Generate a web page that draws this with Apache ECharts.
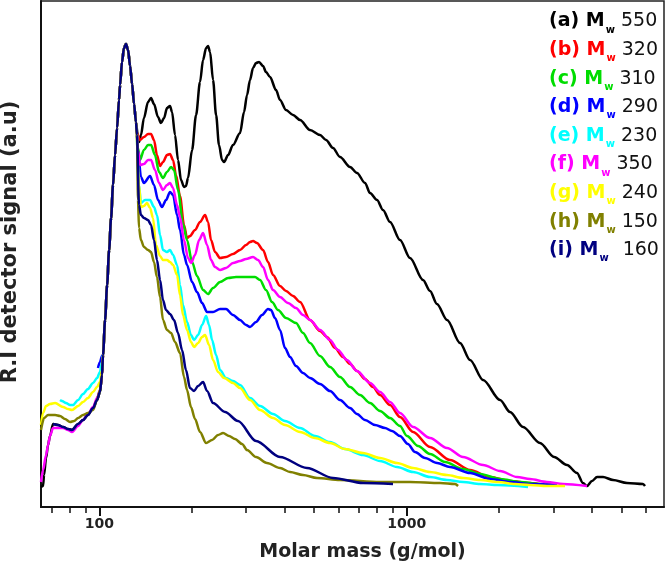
<!DOCTYPE html>
<html>
<head>
<meta charset="utf-8">
<script src="https://cdn.jsdelivr.net/npm/echarts@6/dist/echarts.min.js"></script>
<style>
html,body{margin:0;padding:0;background:#ffffff;}
#chart{width:666px;height:567px;}
</style>
</head>
<body>
<div id="chart"></div>
<script>
// ---------- axis / tick data ----------
const massRange = [64.6, 6871];
const majorTickMasses = [100, 1000];
const minorTickMasses = [70, 80, 90, 200, 300, 400, 500, 600, 700, 800, 900, 2000, 3000, 4000, 5000, 6000];

// ---------- legend data ----------
const seriesKeys = ['a', 'b', 'c', 'd', 'e', 'f', 'g', 'h', 'i'];
const mwValues = [550, 320, 310, 290, 230, 350, 240, 150, 160];
const lineColors = ['#000000', '#ff0000', '#00dd00', '#0000ff', '#00ffff', '#ff00ff', '#ffff00', '#808000', '#000080'];

// ---------- curves: [molar mass (g/mol), R.I. signal (a.u.)] ----------
// main peak shared by all samples (~120 g/mol)
const mainPeak = [[102.8,132],[104.4,167],[106.0,202],[107.6,237],[109.2,269],[110.8,302],[112.5,332],[114.2,359],[115.9,387],[116.8,402],[118.5,425],[120.3,439],[122.1,443],[124.0,437],[125.9,421],[127.8,403],[129.7,383],[131.6,365]];

const aLow = [[64.6,0],[65.6,1],[66.1,12],[67.1,29],[68.1,42],[69.1,51],[70.7,63],[73.4,62],[76.2,60],[79.1,58],[81.5,57],[85.3,63],[88.5,67],[91.8,72],[95.4,79],[98.3,87],[100.5,95],[102.0,112]];
const aHigh = [[133.6,349],[134.6,345],[136.6,352],[139.7,369],[144.0,385],[147.3,389],[150.6,383],[155.2,370],[158.7,364],[162.4,369],[166.0,379],[169.8,381],[172.4,375],[176.3,352],[180.3,327],[184.4,307],[188.6,300],[191.4,301],[194.3,309],[200.3,337],[206.4,372],[212.6,405],[217.5,427],[222.5,439],[225.8,441],[229.2,435],[234.4,407],[239.8,372],[245.1,342],[250.8,327],[254.6,325],[262.3,332],[272.2,342],[286.9,354],[295.6,375],[302.4,392],[309.2,407],[316.2,419],[323.4,424],[330.8,425],[340.9,421],[348.5,415],[359.2,410],[375.7,397],[387.1,387],[404.9,377],[426.7,372],[449.7,367],[484.6,357],[522.4,352],[546.4,347],[575.8,339],[606.7,330],[654.1,320],[689.2,314],[731.7,304],[759.6,294],[800.7,287],[837.2,277],[882.4,265],[951.0,247],[1025,229],[1130,207],[1191,196],[1254,183],[1353,167],[1491,144],[1607,127],[1772,107],[2012,87],[2168,75],[2390,60],[2714,44],[3016,30],[3323,22],[3581,14],[3745,4],[3859,1],[4007,6],[4161,10],[4352,10],[4693,7],[5207,4],[5870,3],[5960,1]];

const bLow = [[98.3,87],[100.5,95],[102.0,112]];
const bHigh = [[132.6,354],[135.6,347],[139.7,350],[144.0,353],[147.3,353],[150.6,347],[154.0,332],[157.6,321],[161.1,325],[166.0,332],[169.8,333],[173.7,327],[177.6,312],[183.0,291],[188.6,262],[192.9,249],[197.2,251],[204.8,257],[212.6,265],[220.8,272],[225.8,265],[230.9,247],[237.9,235],[247.0,229],[258.4,230],[272.2,233],[286.9,237],[300.1,242],[309.2,245],[316.2,246],[325.8,244],[340.9,237],[353.8,225],[367.4,212],[387.1,201],[404.9,196],[426.7,191],[449.7,185],[484.6,167],[522.4,156],[550.5,150],[584.4,139],[620.5,130],[654.1,123],[689.2,116],[731.7,108],[776.9,100],[818.8,92],[882.4,82],[951.0,70],[1049,55],[1191,40],[1383,27],[1607,17],[1866,10],[2168,6],[2518,4],[2817,2]];

const cLow = [[98.3,87],[100.5,95],[102.0,112]];
const cHigh = [[133.6,339],[135.6,327],[139.7,337],[144.0,342],[147.3,342],[151.7,332],[156.4,315],[161.1,309],[166.0,315],[171.1,320],[175.0,317],[180.3,297],[187.2,263],[192.9,247],[200.3,225],[207.9,211],[217.5,197],[225.8,193],[234.4,199],[247.0,205],[262.3,209],[278.4,210],[300.1,210],[321.0,210],[333.3,207],[348.5,197],[364.6,185],[381.4,177],[404.9,169],[436.4,164],[459.9,154],[484.6,144],[522.4,131],[563.0,120],[606.7,110],[654.1,100],[704.8,92],[759.6,84],[818.8,76],[882.4,69],[951.0,61],[1002,51],[1089,41],[1191,33],[1333,25],[1525,18],[1732,13],[2012,8],[2337,5],[2714,3],[3038,2]];

const dLow = [[99.0,119],[100.5,125],[102.0,131]];
const dHigh = [[133.6,337],[136.6,310],[139.7,304],[146.2,311],[150.6,302],[155.2,287],[159.9,280],[164.8,287],[169.8,295],[173.7,292],[179.0,272],[183.0,257],[188.6,232],[192.9,222],[200.3,205],[207.9,195],[215.9,184],[224.1,175],[234.4,175],[247.0,178],[258.4,178],[272.2,172],[286.9,167],[300.1,162],[309.2,160],[323.4,165],[338.3,172],[353.8,178],[361.9,177],[372.9,169],[387.1,157],[401.9,139],[417.3,130],[436.4,121],[459.9,114],[484.6,109],[522.4,103],[563.0,96],[606.7,87],[654.1,79],[689.2,73],[731.7,67],[788.6,62],[850.0,59],[895.7,56],[951.0,51],[1009,43],[1064,35],[1147,29],[1255,24],[1383,20],[1607,14],[1866,8],[2168,5],[2518,3],[3083,2]];

const eLow = [[74.5,87],[75.6,86],[77.9,84],[80.3,82],[82.1,82],[85.3,87],[88.5,93],[91.8,98],[95.4,104],[98.3,109],[100.5,115],[102.0,125]];
const eHigh = [[134.6,302],[136.6,284],[140.8,287],[146.2,287],[150.6,280],[154.0,272],[157.6,252],[161.1,237],[166.0,235],[169.8,237],[173.7,232],[179.0,222],[183.0,202],[187.2,182],[192.9,165],[198.7,152],[203.3,147],[209.5,152],[215.9,162],[222.5,171],[227.5,162],[232.7,147],[239.8,132],[247.0,117],[258.4,109],[272.2,106],[286.9,102],[309.2,89],[333.3,81],[367.4,73],[401.9,66],[449.7,59],[503.1,51],[563.0,45],[629.8,38],[720.9,32],[818.8,26],[930.0,20],[1049,15],[1191,10],[1352,7],[1525,5],[1732,3],[1981,2],[2481,0]];

const fLow = [[64.6,5],[65.6,17],[67.1,32],[68.1,42],[69.1,51],[70.7,59],[73.4,59],[76.2,59],[79.1,57],[81.5,55],[85.3,61],[88.5,67],[91.8,73],[95.4,80],[98.3,89],[100.5,97],[102.0,112]];
const fHigh = [[133.6,337],[135.6,322],[139.7,323],[144.0,327],[147.3,327],[151.7,317],[156.4,304],[161.1,297],[166.0,302],[169.8,304],[173.7,299],[179.0,282],[183.0,270],[188.6,247],[194.3,229],[198.7,224],[204.8,232],[211.1,247],[217.5,254],[224.1,242],[230.9,227],[237.9,220],[247.0,217],[258.4,219],[272.2,224],[286.9,226],[300.1,228],[316.2,230],[328.3,227],[340.9,220],[353.8,207],[367.4,197],[387.1,190],[411.0,184],[436.4,179],[459.9,172],[484.6,167],[522.4,157],[563.0,147],[597.7,137],[639.3,127],[689.2,116],[759.6,104],[818.8,95],[882.4,85],[951.0,74],[1049,60],[1191,49],[1352,39],[1525,30],[1772,22],[2012,16],[2285,10],[2518,8],[2859,5],[3226,3],[3859,1]];

const gLow = [[64.6,62],[65.6,74],[67.1,81],[69.1,83],[71.8,84],[76.2,80],[79.1,78],[81.5,77],[85.3,81],[88.5,85],[91.8,89],[95.4,95],[98.3,100],[100.5,105],[102.0,117]];
const gHigh = [[134.6,302],[136.6,280],[139.7,281],[142.9,284],[146.2,279],[149.5,269],[152.9,242],[157.6,231],[161.1,227],[166.0,227],[169.8,225],[173.7,222],[179.0,212],[183.0,192],[187.2,172],[192.9,157],[198.7,145],[203.3,140],[209.5,144],[215.9,150],[220.8,152],[227.5,142],[234.4,127],[243.3,115],[254.6,109],[272.2,104],[286.9,99],[309.2,87],[333.3,77],[367.4,69],[401.9,62],[449.7,55],[503.1,49],[563.0,44],[629.8,38],[720.9,34],[818.8,29],[930.0,24],[1049,19],[1191,15],[1352,12],[1525,9],[1732,7],[1981,5],[2252,3],[2518,2],[2859,1],[3274,1]];

const hLow = [[64.6,57],[66.1,69],[68.1,72],[71.8,72],[74.5,71],[77.3,68],[80.3,65],[82.8,66],[85.3,69],[88.5,72],[91.8,74],[95.4,77],[98.3,87],[100.5,97],[102.0,112]];
const hHigh = [[132.6,352],[133.6,287],[134.6,259],[136.6,247],[139.7,240],[144.0,237],[147.3,235],[150.6,225],[154.0,210],[157.6,190],[161.1,167],[166.0,157],[171.1,154],[176.3,145],[183.0,134],[188.6,110],[192.9,97],[198.7,80],[204.8,68],[212.6,55],[222.5,44],[232.7,47],[243.3,52],[252.7,54],[264.3,51],[276.3,48],[291.3,43],[302.4,37],[323.4,30],[351.1,24],[387.1,19],[417.3,15],[459.9,12],[510.7,9],[606.7,7],[818.8,5],[1025,5],[1284,4],[1436,3],[1469,1]];

const iLow = [[70.7,63],[73.4,62],[76.2,60],[79.1,58],[81.5,57],[85.3,63],[88.5,67],[91.8,72],[95.4,79],[98.3,87],[100.5,95],[102.0,112]];
const iHigh = [[132.6,352],[134.6,282],[136.6,272],[139.7,269],[144.0,267],[147.3,262],[150.6,247],[154.0,227],[157.6,207],[161.1,187],[164.8,177],[169.8,173],[175.0,167],[180.3,154],[185.8,137],[191.4,117],[197.2,99],[203.3,96],[209.5,101],[217.5,105],[224.1,96],[234.4,84],[256.4,75],[282.6,66],[323.4,46],[387.1,30],[473.8,19],[575.8,9],[720.9,4],[902.4,3]];

const curves = [
  [...aLow, ...mainPeak, ...aHigh],
  [...bLow, ...mainPeak, ...bHigh],
  [...cLow, ...mainPeak, ...cHigh],
  [...dLow, ...mainPeak, ...dHigh],
  [...eLow, ...mainPeak, ...eHigh],
  [...fLow, ...mainPeak, ...fHigh],
  [...gLow, ...mainPeak, ...gHigh],
  [...hLow, ...mainPeak, ...hHigh],
  [...iLow, ...mainPeak, ...iHigh]
];

// ---------- chart ----------
const FONT = 'DejaVu Sans';
const seriesNames = seriesKeys.map((k, i) => '(' + k + ') Mw ' + mwValues[i]);

const rich = {
  n: { color: '#111111', fontFamily: FONT, fontSize: 19, fontWeight: 'normal', lineHeight: 24, padding: [0, 0, 0, 6] },
  n2: { color: '#111111', fontFamily: FONT, fontSize: 19, fontWeight: 'normal', lineHeight: 24, padding: [0, 0, 0, 14] }
};
seriesKeys.forEach((k, i) => {
  rich['l' + i] = { color: lineColors[i], fontFamily: FONT, fontSize: 19, fontWeight: 'bold', lineHeight: 24 };
  rich['s' + i] = { color: lineColors[i], fontFamily: FONT, fontSize: 10, fontWeight: 'bold', lineHeight: 24, padding: [17, 0, 0, 1] };
});

const lg = Math.log10;
const chart = echarts.init(document.getElementById('chart'), null, { renderer: 'canvas' });
chart.setOption({
  animation: false,
  backgroundColor: '#ffffff',
  grid: {
    left: 41, right: 2, top: 1, bottom: 60, containLabel: false, outerBoundsMode: 'none',
    show: true, borderColor: '#222222', borderWidth: 1.5, backgroundColor: 'transparent'
  },
  legend: {
    orient: 'vertical', left: 539, top: 3, itemGap: 1.6, itemWidth: 0, itemHeight: 10, icon: 'none',
    selectedMode: false,
    data: seriesNames,
    formatter: function (name) {
      const i = seriesNames.indexOf(name);
      const nStyle = seriesKeys[i] === 'i' ? 'n2' : 'n';
      return '{l' + i + '|(' + seriesKeys[i] + ') M}{s' + i + '|w}{' + nStyle + '|' + mwValues[i] + '}';
    },
    textStyle: { rich: rich }
  },
  xAxis: [
    {
      type: 'log', logBase: 10, min: massRange[0], max: massRange[1], position: 'bottom',
      axisLine: { show: true, onZero: false, lineStyle: { color: '#111111', width: 2 } },
      axisTick: { show: false }, axisLabel: { show: false }, splitLine: { show: false },
      name: 'Molar mass (g/mol)', nameLocation: 'middle', nameGap: 36,
      nameTextStyle: { fontFamily: FONT, fontWeight: 'bold', fontSize: 19, color: '#222222', padding: [0, 0, 0, 20] }
    },
    {
      type: 'value', min: lg(massRange[0]), max: lg(massRange[1]), position: 'bottom',
      axisLine: { show: false, onZero: false }, splitLine: { show: false },
      axisTick: { show: true, inside: false, length: 9, customValues: majorTickMasses.map(lg), lineStyle: { color: '#111111', width: 2 } },
      axisLabel: {
        show: true, margin: 10, customValues: majorTickMasses.map(lg),
        fontFamily: FONT, fontWeight: 'bold', fontSize: 14, color: '#222222',
        formatter: function (v) { return String(Math.round(Math.pow(10, v))); }
      }
    },
    {
      type: 'value', min: lg(massRange[0]), max: lg(massRange[1]), position: 'bottom',
      axisLine: { show: false, onZero: false }, splitLine: { show: false }, axisLabel: { show: false },
      axisTick: { show: true, inside: false, length: 6, customValues: minorTickMasses.map(lg), lineStyle: { color: '#111111', width: 1.5 } }
    }
  ],
  yAxis: {
    type: 'value', min: -20, max: 486,
    axisLine: { show: true, onZero: false, lineStyle: { color: '#111111', width: 2 } },
    axisTick: { show: false }, axisLabel: { show: false }, splitLine: { show: false },
    name: 'R.I detector signal (a.u)', nameLocation: 'middle', nameGap: 20, nameRotate: 90,
    nameTextStyle: { fontFamily: FONT, fontWeight: 'bold', fontSize: 21, color: '#222222', padding: [0, 0, 0, 24] }
  },
  series: curves.map((c, i) => ({
    name: seriesNames[i],
    type: 'line',
    xAxisIndex: 0,
    yAxisIndex: 0,
    data: c,
    showSymbol: false,
    symbol: 'none',
    smooth: 0.3,
    smoothMonotone: 'x',
    lineStyle: { color: lineColors[i], width: 2.5 },
    itemStyle: { color: lineColors[i] },
    emphasis: { disabled: true }
  }))
});
</script>
</body>
</html>
